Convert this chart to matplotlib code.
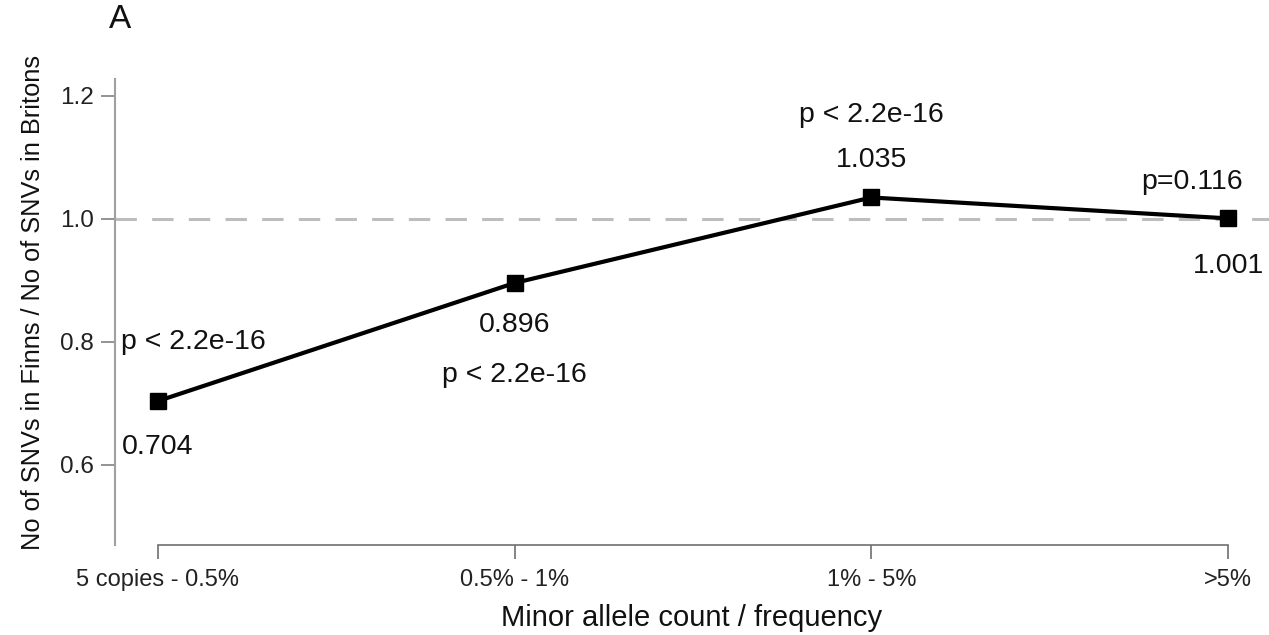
import matplotlib
matplotlib.use("Agg")
import matplotlib.pyplot as plt

categories = ["5 copies - 0.5%", "0.5% - 1%", "1% - 5%", ">5%"]
ratios = [0.704, 0.896, 1.035, 1.001]
value_labels = ["0.704", "0.896", "1.035", "1.001"]
p_labels = ["p < 2.2e-16", "p < 2.2e-16", "p < 2.2e-16", "p=0.116"]
yticks = [0.6, 0.8, 1.0, 1.2]

plt.rcParams['font.family'] = ['Liberation Sans', 'DejaVu Sans']

W, H = 1269, 635
fig = plt.figure(figsize=(W / 100, H / 100), dpi=100)
ax = fig.add_axes([115 / W, 1 - 545 / H, (W - 115) / W, (545 - 79) / H])

x = list(range(len(categories)))
ax.set_xlim(-43 / 357, 3 + 41 / 357)
ax.set_ylim(0.6 - 80 / 615, 1.2 + 17 / 615)

ax.axhline(1.0, color="#bdbdbd", lw=2.2, dashes=(7, 5), zorder=1)
ax.plot(x, ratios, color="black", lw=3, marker="s", ms=12, zorder=3)

# value labels
val_pos = [(0, 0.630), (1, 0.828), (2, 1.096), (3, 0.924)]
p_pos = [(0.10, 0.800), (1, 0.746), (2, 1.169), (2.90, 1.060)]
for (px, py), t in zip(val_pos, value_labels):
    ax.text(px, py, t, ha="center", va="center", fontsize=20.5, color="#111111")
for (px, py), t in zip(p_pos, p_labels):
    ax.text(px, py, t, ha="center", va="center", fontsize=20.5, color="#111111")

for s in ["top", "right"]:
    ax.spines[s].set_visible(False)
ax.spines["left"].set_color("#a0a0a0")
ax.spines["left"].set_linewidth(1.5)
ax.spines["bottom"].set_color("#707070")
ax.spines["bottom"].set_linewidth(1.2)
ax.spines["bottom"].set_bounds(0, 3)

ax.set_xticks(x)
ax.set_xticklabels(categories, fontsize=17, color="#222222")
ax.set_yticks(yticks)
ax.set_yticklabels([f"{v:.1f}" for v in yticks], fontsize=17.5, color="#222222")
ax.tick_params(axis="y", length=10, width=1.2, color="#808080", pad=5)
ax.tick_params(axis="x", length=10, width=1.2, color="#707070", pad=7)

fig.text(692 / W, 1 - 618 / H, "Minor allele count / frequency",
         ha="center", va="center", fontsize=21, color="#111111")
fig.text(33 / W, 1 - 302 / H, "No of SNVs in Finns / No of SNVs in Britons",
         ha="center", va="center", rotation=90, fontsize=18.3, color="#111111")
fig.text(120 / W, 1 - 19 / H, "A", ha="center", va="center", fontsize=24, color="#111111")

fig.savefig("out.png", dpi=100, facecolor="white")
